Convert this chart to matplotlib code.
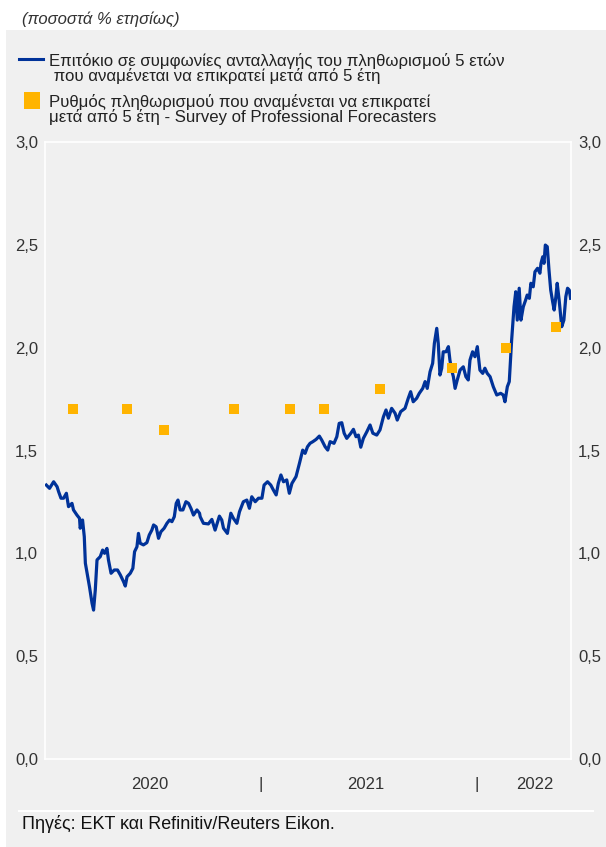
import matplotlib
matplotlib.use("Agg")
import matplotlib.pyplot as plt
from matplotlib.lines import Line2D
from matplotlib.patches import Rectangle

plt.rcParams['font.family'] = ['Liberation Sans', 'DejaVu Sans']

# ---- data (decimal years, % per annum) ----
swap_t = [2020.006, 2020.021, 2020.040, 2020.056, 2020.063, 2020.074, 2020.086, 2020.099, 2020.109, 2020.125,
          2020.132, 2020.148, 2020.160, 2020.163, 2020.174, 2020.182, 2020.187, 2020.194, 2020.206, 2020.218,
          2020.225, 2020.233, 2020.241, 2020.256, 2020.267, 2020.276, 2020.287, 2020.294, 2020.306, 2020.321,
          2020.336, 2020.349, 2020.364, 2020.372, 2020.380, 2020.395, 2020.407, 2020.415, 2020.426, 2020.433,
          2020.441, 2020.456, 2020.472, 2020.483, 2020.495, 2020.503, 2020.515, 2020.526, 2020.537, 2020.552,
          2020.565, 2020.577, 2020.588, 2020.599, 2020.608, 2020.616, 2020.626, 2020.639, 2020.653, 2020.665,
          2020.676, 2020.688, 2020.704, 2020.716, 2020.719, 2020.734, 2020.757, 2020.773, 2020.788, 2020.808,
          2020.819, 2020.827, 2020.845, 2020.861, 2020.873, 2020.889, 2020.901, 2020.919, 2020.935, 2020.947,
          2020.958, 2020.974, 2020.989, 2021.005, 2021.015, 2021.031, 2021.046, 2021.058, 2021.071, 2021.081,
          2021.093, 2021.105, 2021.120, 2021.132, 2021.144, 2021.163, 2021.179, 2021.194, 2021.205, 2021.216,
          2021.228, 2021.241, 2021.256, 2021.271, 2021.282, 2021.298, 2021.310, 2021.321, 2021.339, 2021.352,
          2021.363, 2021.375, 2021.386, 2021.398, 2021.417, 2021.429, 2021.441, 2021.452, 2021.463, 2021.475,
          2021.491, 2021.506, 2021.519, 2021.537, 2021.552, 2021.568, 2021.580, 2021.591, 2021.606, 2021.622,
          2021.632, 2021.648, 2021.668, 2021.683, 2021.694, 2021.706, 2021.722, 2021.734, 2021.750, 2021.761,
          2021.771, 2021.784, 2021.796, 2021.804, 2021.815, 2021.822, 2021.830, 2021.838, 2021.845, 2021.858,
          2021.869, 2021.876, 2021.884, 2021.892, 2021.900, 2021.910, 2021.923, 2021.938, 2021.950, 2021.961,
          2021.969, 2021.981, 2021.992, 2022.003, 2022.015, 2022.028, 2022.038, 2022.049, 2022.062, 2022.077,
          2022.093, 2022.111, 2022.123, 2022.131, 2022.142, 2022.151, 2022.162, 2022.173, 2022.181, 2022.188,
          2022.197, 2022.205, 2022.216, 2022.227, 2022.234, 2022.244, 2022.251, 2022.262, 2022.270, 2022.282,
          2022.293, 2022.298, 2022.306, 2022.312, 2022.318, 2022.327, 2022.335, 2022.343, 2022.352, 2022.359,
          2022.367, 2022.373, 2022.382, 2022.394, 2022.404, 2022.413, 2022.421, 2022.429, 2022.435]
swap_v = [1.332, 1.316, 1.348, 1.324, 1.300, 1.268, 1.268, 1.292, 1.227, 1.243,
          1.211, 1.186, 1.170, 1.122, 1.162, 1.081, 0.952, 0.911, 0.838, 0.757,
          0.724, 0.822, 0.968, 0.984, 1.016, 1.000, 1.024, 0.968, 0.903, 0.919,
          0.919, 0.895, 0.862, 0.841, 0.886, 0.903, 0.927, 1.008, 1.032, 1.097,
          1.049, 1.041, 1.052, 1.089, 1.113, 1.138, 1.129, 1.073, 1.105, 1.122,
          1.146, 1.162, 1.154, 1.178, 1.243, 1.259, 1.211, 1.211, 1.251, 1.243,
          1.219, 1.186, 1.211, 1.195, 1.178, 1.146, 1.143, 1.165, 1.113, 1.181,
          1.162, 1.122, 1.097, 1.195, 1.170, 1.146, 1.202, 1.251, 1.259, 1.219,
          1.275, 1.251, 1.268, 1.268, 1.332, 1.348, 1.332, 1.308, 1.284, 1.340,
          1.381, 1.348, 1.357, 1.292, 1.340, 1.373, 1.438, 1.502, 1.486, 1.518,
          1.535, 1.543, 1.554, 1.570, 1.551, 1.518, 1.502, 1.543, 1.535, 1.567,
          1.632, 1.635, 1.584, 1.559, 1.584, 1.603, 1.567, 1.575, 1.516, 1.559,
          1.591, 1.624, 1.584, 1.575, 1.600, 1.664, 1.697, 1.657, 1.705, 1.681,
          1.648, 1.689, 1.705, 1.754, 1.786, 1.737, 1.754, 1.778, 1.802, 1.835,
          1.802, 1.883, 1.924, 2.021, 2.094, 2.021, 1.867, 1.900, 1.980, 1.980,
          2.005, 1.940, 1.891, 1.859, 1.802, 1.843, 1.891, 1.907, 1.859, 1.843,
          1.940, 1.980, 1.956, 2.005, 1.891, 1.875, 1.900, 1.875, 1.859, 1.810,
          1.770, 1.778, 1.770, 1.737, 1.810, 1.835, 2.037, 2.199, 2.272, 2.134,
          2.289, 2.134, 2.199, 2.232, 2.256, 2.240, 2.313, 2.296, 2.369, 2.386,
          2.362, 2.410, 2.442, 2.410, 2.499, 2.491, 2.378, 2.280, 2.223, 2.183,
          2.248, 2.313, 2.232, 2.102, 2.134, 2.248, 2.289, 2.280, 2.240]

spf_t = [2020.131, 2020.381, 2020.552, 2020.876, 2021.136, 2021.293, 2021.552, 2021.885, 2022.135, 2022.366]
spf_v = [1.7, 1.7, 1.6, 1.7, 1.7, 1.7, 1.8, 1.9, 2.0, 2.1]

xtick_pos = [2020.486, 2021.0, 2021.486, 2022.0, 2022.27]
xtick_labels = ["2020", "|", "2021", "|", "2022"]
ytick_vals = [0.0, 0.5, 1.0, 1.5, 2.0, 2.5, 3.0]

label_swap = "Επιτόκιο σε συμφωνίες ανταλλαγής του πληθωρισμού 5 ετών\n που αναμένεται να επικρατεί μετά από 5 έτη"
label_spf = "Ρυθμός πληθωρισμού που αναμένεται να επικρατεί\nμετά από 5 έτη - Survey of Professional Forecasters"
title = "(ποσοστά % ετησίως)"
source = "Πηγές: ΕΚΤ και Refinitiv/Reuters Eikon."

BLUE = "#003299"
ORANGE = "#FFB400"
GRAY = "#F0F0F0"
TXT = "#333333"

W, H = 606, 847
fig = plt.figure(figsize=(W / 100, H / 100), dpi=100, facecolor="white")

# grey panel
fig.add_artist(Rectangle((6 / W, 0), 1, (H - 30) / H, transform=fig.transFigure,
                         facecolor=GRAY, edgecolor="none", zorder=0))

ax = fig.add_axes([45 / W, 1 - 759 / H, (571 - 45) / W, (759 - 142) / H])
ax.set_facecolor(GRAY)
for s in ax.spines.values():
    s.set_color("white")
    s.set_linewidth(1.2)

line, = ax.plot(swap_t, swap_v, color=BLUE, lw=2.3, solid_joinstyle="round", zorder=3)
ax.plot(spf_t, spf_v, "s", ms=7.2, color=ORANGE, mew=0, zorder=4)

ax.set_xlim(2020.0, 2022.437)
ax.set_ylim(0, 3.0)
ax.set_yticks(ytick_vals)
ax.set_yticklabels([f"{v:.1f}".replace(".", ",") for v in ytick_vals])
ax.tick_params(axis="y", length=0, labelsize=12, labelcolor=TXT, pad=5,
               labelleft=True, labelright=True)
ax.set_xticks(xtick_pos)
ax.set_xticklabels(xtick_labels)
ax.tick_params(axis="x", length=0, labelsize=12, labelcolor=TXT, pad=13)

# title
fig.text(22 / W, 1 - 19 / H, title, fontsize=12, style="italic", color=TXT, va="center", ha="left")

# legend (manual)
fig.add_artist(Line2D([19 / W, 43 / W], [1 - 59 / H, 1 - 59 / H], transform=fig.transFigure,
                      color=BLUE, lw=2.2))
fig.text(49 / W, 1 - 53 / H, label_swap, fontsize=12.1, color="#222222", va="top", ha="left",
         linespacing=0.95)
fig.add_artist(Rectangle((24 / W, 1 - 109 / H), 16 / W, 17 / H, transform=fig.transFigure,
                         facecolor=ORANGE, edgecolor="none"))
fig.text(49 / W, 1 - 94 / H, label_spf, fontsize=12.1, color="#222222", va="top", ha="left",
         linespacing=0.95)

# footer
fig.add_artist(Line2D([19 / W, 593 / W], [1 - 810.7 / H, 1 - 810.7 / H], transform=fig.transFigure,
                      color="white", lw=1.5))
fig.text(22 / W, 1 - 824 / H, source, fontsize=12.9, color="#111111", va="center", ha="left")

fig.savefig("out.png", dpi=100, facecolor="white")
